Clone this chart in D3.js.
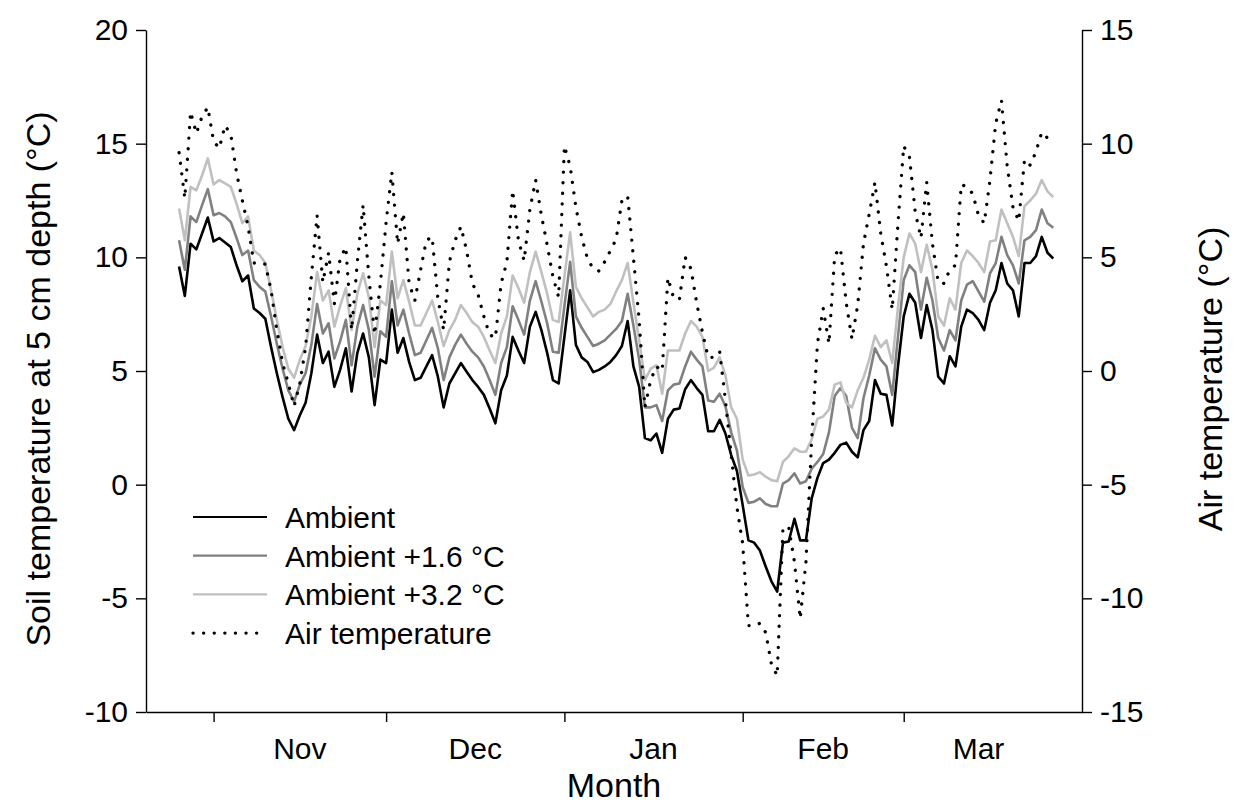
<!DOCTYPE html>
<html>
<head>
<meta charset="utf-8">
<script src="https://cdn.jsdelivr.net/npm/d3@7"></script>
<style>
  body { margin: 0; background: #fff; }
  svg text { font-family: "Liberation Sans", Arial, sans-serif; fill: #000; }
</style>
</head>
<body>
<svg id="chart" width="1235" height="803"></svg>
<script>
// Daily series, first value on 26 Oct 2012
const firstDay = Date.UTC(2012, 9, 26);

// Soil temperature at 5 cm depth (°C)
const ambient = [
  9.6, 8.3, 10.6, 10.35, 11.05, 11.75, 10.7, 10.85, 10.65, 10.45,
  9.65, 8.95, 9.2, 7.75, 7.55, 7.3, 6.05, 4.9, 3.85, 2.9,
  2.4, 3.05, 3.6, 4.9, 6.6, 5.35, 5.85, 4.3, 5.05, 6.0,
  4.1, 5.8, 6.65, 5.6, 3.5, 5.5, 5.35, 7.7, 5.8, 6.45,
  5.4, 4.6, 4.7, 5.2, 5.7, 4.75, 3.4, 4.45, 4.9, 5.35,
  4.97, 4.6, 4.3, 3.95, 3.35, 2.7, 4.15, 4.8, 6.5, 5.9,
  5.35, 6.95, 7.6, 6.8, 5.8, 4.6, 4.45, 6.5, 8.55, 6.15,
  5.6, 5.4, 4.95, 5.05, 5.2, 5.4, 5.7, 6.1, 7.2, 5.2,
  4.3, 2.05, 1.95, 2.25, 1.4, 2.9, 3.3, 3.35, 4.2, 4.6,
  4.25, 3.95, 2.35, 2.35, 2.85, 2.25, 1.3, 0.6, -0.9, -2.45,
  -2.55, -2.9, -3.6, -4.25, -4.7, -2.55, -2.5, -1.5, -2.45, -2.45,
  -0.6, 0.3, 0.95, 1.1, 1.4, 1.75, 1.85, 1.45, 1.2, 2.4,
  2.8, 4.6, 4.0, 3.95, 2.6, 5.2, 7.4, 8.4, 8.0, 6.45,
  7.9, 6.8, 4.75, 4.45, 5.65, 5.2, 6.95, 7.7, 7.55, 7.25,
  6.8, 8.0, 8.55, 9.75, 8.85, 8.55, 7.4, 9.75, 9.75, 10.05,
  10.9, 10.2, 9.95
];
const ambient16 = [
  10.75, 9.45, 11.8, 11.55, 12.3, 13.0, 11.85, 11.95, 11.8, 11.55,
  10.85, 10.1, 10.3, 9.0, 8.7, 8.5, 7.4, 6.2, 5.1, 4.15,
  3.65, 4.4, 4.9, 6.15, 7.95, 6.65, 7.1, 5.55, 6.3, 7.25,
  5.25, 6.95, 7.9, 6.8, 4.75, 6.75, 6.5, 8.95, 7.0, 7.7,
  6.65, 5.7, 5.8, 6.35, 6.9, 6.0, 4.6, 5.6, 6.15, 6.6,
  6.2, 5.85, 5.6, 5.2, 4.6, 3.95, 5.35, 6.05, 7.85, 7.25,
  6.6, 8.1, 8.95, 8.05, 7.1, 5.85, 5.8, 7.85, 9.8, 7.4,
  6.9, 6.5, 6.1, 6.2, 6.35, 6.6, 6.85, 7.2, 8.4, 7.0,
  5.5, 3.4, 3.4, 3.5, 2.8, 4.15, 4.4, 4.45, 5.2, 5.85,
  5.5, 5.2, 3.7, 3.65, 4.0, 3.45, 2.3, 1.5, -0.1, -0.8,
  -0.75, -0.6, -0.85, -0.95, -0.95, 0.05, 0.2, 0.5, 0.05, 0.15,
  0.7, 1.0, 1.35, 2.3, 3.9, 4.25, 3.9, 2.5, 2.05, 3.8,
  4.8, 6.0, 5.5, 5.2, 3.95, 6.5, 9.0, 9.65, 9.35, 7.7,
  9.1, 8.1, 6.45, 5.9, 6.8, 6.35, 8.1, 8.8, 8.95, 8.5,
  8.05, 9.3, 9.75, 10.9, 10.1, 9.65, 8.85, 10.75, 10.9, 11.2,
  12.1, 11.5, 11.3
];
const ambient32 = [
  12.15, 10.75, 13.1, 12.95, 13.6, 14.35, 13.2, 13.4, 13.25, 13.1,
  12.35, 11.5, 11.8, 10.3, 10.1, 9.75, 8.55, 7.25, 6.05, 5.1,
  4.7, 5.5, 6.1, 7.4, 9.35, 8.1, 8.55, 6.95, 7.85, 8.65,
  6.8, 8.4, 9.3, 8.25, 6.05, 8.1, 7.9, 10.25, 8.2, 9.0,
  8.05, 7.0, 7.0, 7.55, 8.1, 7.15, 6.1, 6.8, 7.25, 7.9,
  7.55, 7.15, 6.95, 6.5, 5.9, 5.35, 6.65, 7.4, 9.2, 8.65,
  8.0, 9.35, 10.25, 9.35, 8.4, 7.25, 7.15, 9.15, 11.1, 8.7,
  8.2, 7.8, 7.4, 7.6, 7.7, 7.95, 8.5, 9.0, 9.75, 8.0,
  6.35, 4.6, 5.1, 5.25, 4.0, 5.9, 5.9, 5.9, 6.65, 7.2,
  6.95, 6.5, 5.0, 5.15, 5.6, 4.8, 3.4, 2.9, 1.1, 0.4,
  0.45, 0.55, 0.35, 0.2, 0.15, 1.0, 1.25, 1.6, 1.45, 1.45,
  2.0, 2.9, 3.0, 3.3, 4.4, 4.5, 3.6, 3.4, 4.15, 4.7,
  5.5, 6.55, 6.05, 6.35, 5.35, 7.8, 10.0, 11.05, 10.6, 9.35,
  10.55, 9.45, 7.4, 7.0, 8.2, 7.7, 9.75, 10.3, 10.05, 9.75,
  9.35, 10.7, 10.75, 12.1, 11.5, 10.9, 10.05, 12.25, 12.5, 12.8,
  13.4, 12.9, 12.65
];
// Air temperature (°C), right-hand axis
const airTemp = [
  9.6, 7.6, 11.4, 10.45, 11.2, 11.6, 10.1, 9.8, 10.8, 10.4,
  8.7, 7.5, 6.35, 4.75, 4.75, 4.7, 3.55, 1.8, 0.35, -0.55,
  -1.55, -0.55, 1.05, 4.15, 6.85, 3.9, 5.2, 2.95, 4.95, 5.45,
  1.8, 4.8, 7.3, 4.15, 1.6, 3.85, 6.55, 8.75, 5.6, 6.95,
  3.85, 3.1, 4.45, 5.75, 5.9, 3.2, 1.8, 4.8, 5.75, 6.35,
  5.3, 3.85, 3.35, 2.4, 1.6, 1.45, 3.85, 4.8, 7.95, 5.75,
  4.85, 7.1, 8.4, 6.85, 5.55, 4.15, 3.25, 9.9, 9.0, 7.2,
  5.9, 4.95, 4.5, 4.4, 4.8, 5.3, 5.8, 7.5, 7.7, 5.0,
  2.25, -1.6, -0.4, 0.2, 0.0, 4.1, 3.2, 3.15, 5.0, 4.5,
  3.0, 1.7, 0.6, 0.6, 0.85, -1.3, -3.7, -6.0, -7.6, -11.2,
  -11.2, -11.1, -11.5, -12.9, -13.4, -6.9, -6.85, -8.4, -10.9, -8.4,
  -3.0, 1.2, 2.75, 1.2, 5.1, 5.4, 3.0, 1.4, 2.9, 5.6,
  6.9, 8.3, 6.05, 4.6, 2.7, 6.5, 9.9, 9.4, 7.0, 5.85,
  8.3, 5.6, 3.9, 3.85, 4.45, 4.65, 8.2, 8.1, 7.8, 6.85,
  6.5, 8.4, 10.9, 11.9, 9.0, 7.2, 6.6, 9.3, 9.05, 9.65,
  10.5, 10.25, 9.95
];

// Axis ticks and labels
const monthStarts = ["2012-11-01", "2012-12-01", "2013-01-01", "2013-02-01", "2013-03-01"];
const monthNames = ["Nov", "Dec", "Jan", "Feb", "Mar"];
const monthLabelDays = ["2012-11-16", "2012-12-16T12:00", "2013-01-16T12:00", "2013-02-15", "2013-03-14"];
const soilTicks = [-10, -5, 0, 5, 10, 15, 20];
const airTicks = [-15, -10, -5, 0, 5, 10, 15];

const legendItems = [
  { label: "Ambient", color: "#000000", width: 2.2, dash: null },
  { label: "Ambient +1.6 °C", color: "#808080", width: 2.2, dash: null },
  { label: "Ambient +3.2 °C", color: "#c0c0c0", width: 2.2, dash: null },
  { label: "Air temperature", color: "#000000", width: 3.3, dash: "0.1 10.5" }
];

const svg = d3.select("#chart");
const plot = { left: 146, right: 1082, top: 30, bottom: 712 };
const parseDay = s => new Date(s + (s.length > 10 ? "Z" : "T00:00Z"));

const x = d3.scaleUtc()
  .domain([new Date(Date.UTC(2012, 9, 20, 6)), new Date(Date.UTC(2013, 3, 1))])
  .range([plot.left, plot.right]);
const ySoil = d3.scaleLinear().domain([-10, 20]).range([plot.bottom, plot.top]);
const yAir = d3.scaleLinear().domain([-15, 15]).range([plot.bottom, plot.top]);

const dayOf = i => d3.utcDay.offset(new Date(firstDay), i);

// Series lines
const soilLine = d3.line().x((d, i) => x(dayOf(i))).y(d => ySoil(d));
const airLine = d3.line().x((d, i) => x(dayOf(i))).y(d => yAir(d));

const series = [
  { values: ambient, line: soilLine, style: legendItems[0], w: 2.6 },
  { values: ambient16, line: soilLine, style: legendItems[1], w: 2.6 },
  { values: ambient32, line: soilLine, style: legendItems[2], w: 2.6 },
  { values: airTemp, line: airLine, style: legendItems[3], w: 3.3 }
];

svg.append("g").selectAll("path")
  .data(series)
  .join("path")
  .attr("d", s => s.line(s.values))
  .attr("fill", "none")
  .attr("stroke", s => s.style.color)
  .attr("stroke-width", s => s.w)
  .attr("stroke-linejoin", "round")
  .attr("stroke-linecap", s => s.style.dash ? "round" : "butt")
  .attr("stroke-dasharray", s => s.style.dash);

// Axes (plain hyphen for negative tick labels)
const fontSize = 30;
const plain = d => String(d);
function styleAxis(g) {
  g.select(".domain").attr("stroke", "#000").attr("stroke-width", 1.4);
  g.selectAll(".tick line").attr("stroke", "#000").attr("stroke-width", 1.4);
  g.selectAll(".tick text").attr("font-size", fontSize)
    .attr("font-family", '"Liberation Sans", Arial, sans-serif').attr("fill", "#000");
}

svg.append("g")
  .attr("transform", `translate(${plot.left},0)`)
  .call(d3.axisLeft(ySoil).tickValues(soilTicks).tickFormat(plain)
    .tickSize(10).tickSizeOuter(0).tickPadding(8))
  .call(styleAxis);

svg.append("g")
  .attr("transform", `translate(${plot.right},0)`)
  .call(d3.axisRight(yAir).tickValues(airTicks).tickFormat(plain)
    .tickSize(10).tickSizeOuter(0).tickPadding(8))
  .call(styleAxis);

svg.append("g")
  .attr("transform", `translate(0,${plot.bottom})`)
  .call(d3.axisBottom(x).tickValues(monthStarts.map(parseDay)).tickSize(10).tickSizeOuter(0).tickFormat(""))
  .call(styleAxis);

svg.append("g").selectAll("text")
  .data(monthNames)
  .join("text")
  .attr("x", (d, i) => x(parseDay(monthLabelDays[i])))
  .attr("y", 759)
  .attr("text-anchor", "middle")
  .attr("font-size", fontSize)
  .text(d => d);

// Axis titles
const titleSize = 34;
svg.append("text")
  .attr("x", (plot.left + plot.right) / 2)
  .attr("y", 797)
  .attr("text-anchor", "middle")
  .attr("font-size", titleSize)
  .text("Month");

svg.append("text")
  .attr("transform", "translate(50,379) rotate(-90)")
  .attr("text-anchor", "middle")
  .attr("font-size", titleSize)
  .text("Soil temperature at 5 cm depth (°C)");

svg.append("text")
  .attr("transform", "translate(1222,379) rotate(-90)")
  .attr("text-anchor", "middle")
  .attr("font-size", titleSize)
  .text("Air temperature (°C)");

// Legend
const legend = svg.append("g").attr("transform", "translate(193,517)");
const rows = legend.selectAll("g").data(legendItems).join("g")
  .attr("transform", (d, i) => `translate(0,${i * 38.7})`);
rows.append("line")
  .attr("x1", 0).attr("x2", 74)
  .attr("stroke", d => d.color)
  .attr("stroke-width", d => d.dash ? 3.3 : d.width)
  .attr("stroke-linecap", d => d.dash ? "round" : "butt")
  .attr("stroke-dasharray", d => d.dash);
rows.append("text")
  .attr("x", 92).attr("y", 11)
  .attr("font-size", fontSize)
  .text(d => d.label);
</script>
</body>
</html>
